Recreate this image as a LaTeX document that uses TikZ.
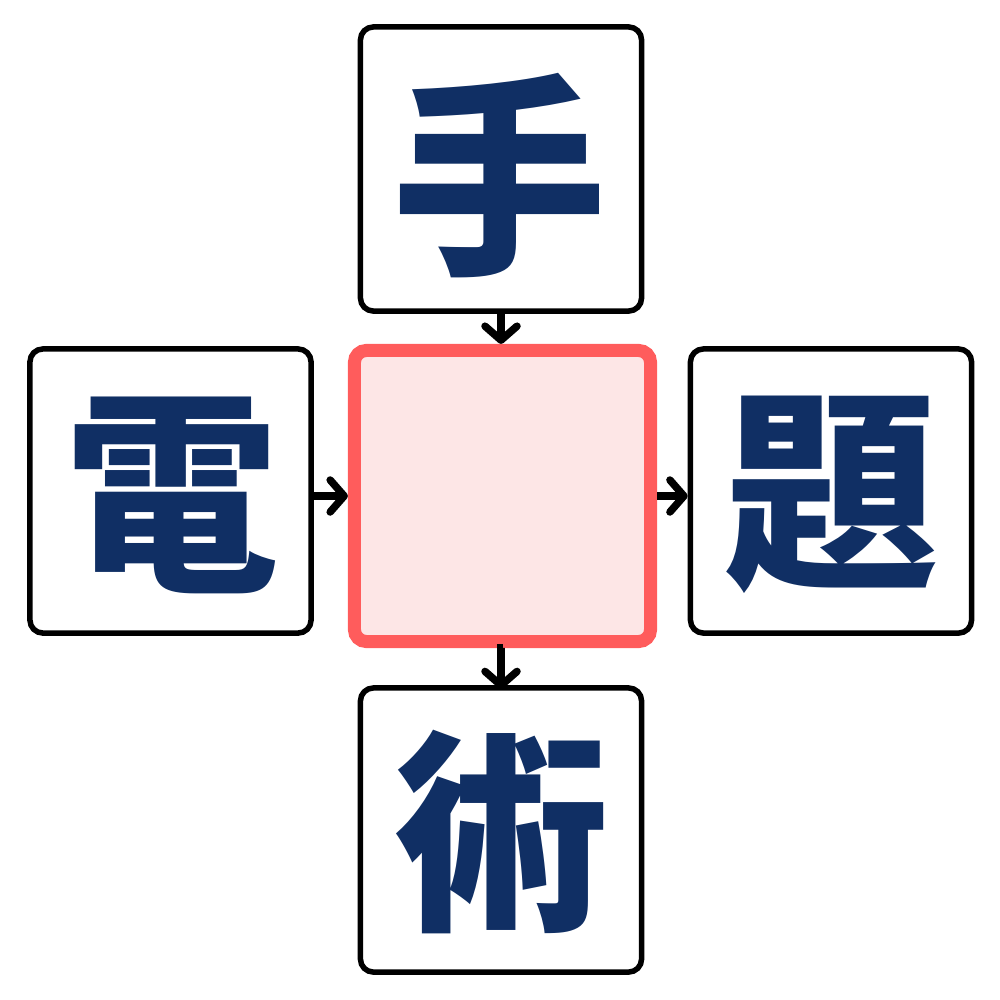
\documentclass[tikz,border=0pt]{standalone}
\usepackage{fontspec}
\newfontfamily\cjk{Noto Sans CJK JP Black}
\usetikzlibrary{arrows.meta}
\definecolor{navy}{RGB}{16,47,100}
\definecolor{redline}{RGB}{255,92,92}
\definecolor{pinkfill}{RGB}{253,230,230}
\tikzset{
  box/.style={draw=black, line width=0.055cm, rounded corners=0.13cm, fill=white,
    minimum width=2.81cm, minimum height=2.84cm, inner sep=0pt},
  centerbox/.style={draw=redline, fill=pinkfill, line width=0.13cm, rounded corners=0.12cm,
    minimum width=2.96cm, minimum height=2.91cm, inner sep=0pt},
  glyph/.style={font=\cjk\fontsize{61}{61}\selectfont, text=navy, inner sep=0pt},
  arr/.style={line width=0.075cm, -{Straight Barb[length=0.14cm,width=0.32cm,round]}}
}
\begin{document}
\begin{tikzpicture}[x=0.01cm,y=-0.01cm]
\useasboundingbox (0,0) rectangle (1000,1000);
\node[box] (top) at (501,169) {};
\node[box] (left) at (170.5,491) {};
\node[box] (right) at (831,491) {};
\node[box] (bottom) at (501,830) {};
\node[centerbox] (mid) at (502.5,496) {};
\node[glyph] (t1) at (500,176) {手};
\node[glyph] (t2) at (172,495) {電};
\node[glyph] (t3) at (832,495) {題};
\node[glyph] (t4) at (502,832) {術};
\draw[arr] (top.south) -- (top.south |- mid.north);
\draw[arr] (left.east |- mid.west) -- (mid.west);
\draw[arr] (mid.east) -- (right.west |- mid.east);
\draw[arr] (mid.south) -- (mid.south -| bottom.north) -- ([yshift=-0.04cm]bottom.north);
\end{tikzpicture}
\end{document}
